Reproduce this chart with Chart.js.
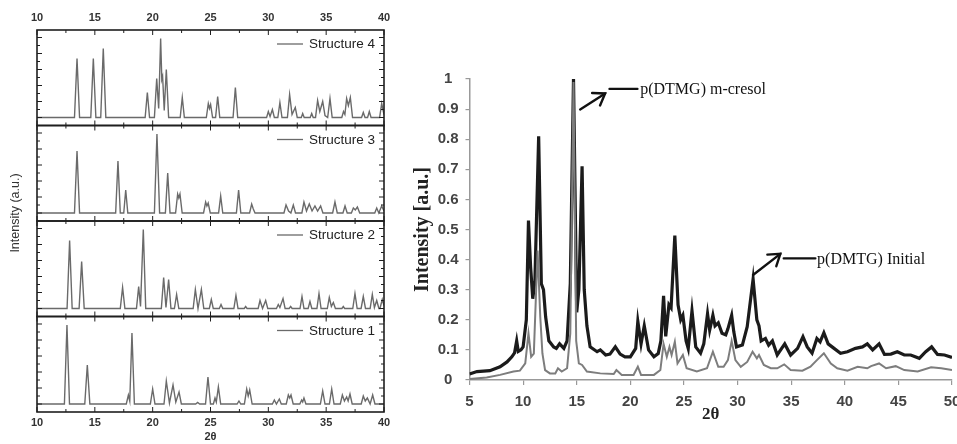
<!DOCTYPE html>
<html><head><meta charset="utf-8">
<script src="https://cdn.jsdelivr.net/npm/chart.js@4.4.0/dist/chart.umd.min.js"></script>
<style>
html,body{margin:0;padding:0;background:#fff;}
#wrap{position:relative;width:957px;height:444px;overflow:hidden;background:#fff;}
#lbox{position:absolute;left:0;top:0;width:400px;height:444px;}
#rbox{position:absolute;left:400px;top:0;width:557px;height:444px;}
</style></head><body>
<div id="wrap"><div id="lbox"><canvas id="left"></canvas></div><div id="rbox"><canvas id="right"></canvas></div></div>
<script>
// ---------- LEFT PANEL DATA (2θ, intensity a.u.) ----------
const leftNames = ['Structure 1', 'Structure 2', 'Structure 3', 'Structure 4'];
const structure1 = [[10,0],[12.37,0],[12.59,79],[12.81,0],[14.13,0],[14.35,39],[14.57,0],
 [17.72,0],[17.9,9],[18.02,3],[18.21,71],[18.42,0],[19.8,0],[20.0,15],[20.2,0],
 [20.98,0],[21.18,23],[21.45,1],[21.76,19],[22.0,2],[22.28,12],[22.48,0],
 [23.72,0],[23.89,1.5],[24.06,0],[24.57,0],[24.78,27],[25.0,0],
 [25.25,0],[25.39,6],[25.5,2],[25.68,17],[25.88,0],[27.3,0],[27.46,3],[27.62,0],
 [27.93,0],[28.13,15],[28.26,8],[28.39,14],[28.6,0],
 [30.35,0],[30.52,4],[30.7,0],[30.95,5],[31.12,0],
 [31.55,0],[31.73,9],[31.85,6],[31.96,9],[32.15,0],
 [32.72,0],[32.88,4],[32.97,2],[33.08,6],[33.25,0],
 [34.5,0],[34.7,13],[34.9,0],[35.28,0],[35.48,15],[35.68,0],
 [36.22,0],[36.4,9],[36.58,3],[36.77,7],[36.9,3],[37.06,10],[37.25,0],
 [38.03,0],[38.21,8],[38.38,3],[38.56,6],[38.8,0],[39.02,9],[39.22,0],[40,0]];
const structure2 = [[10,0],[12.6,0],[12.82,68],[13.04,0],[13.64,0],[13.86,47],[14.08,0],
 [17.2,0],[17.4,21],[17.6,0],[18.6,0],[18.79,22],[18.95,2],[19.19,79],[19.4,0],
 [20.75,0],[20.95,31],[21.15,1],[21.38,29],[21.58,0],[21.88,0],[22.07,14],[22.26,0],
 [23.5,0],[23.69,19],[23.92,0],[24.21,19],[24.42,0],[24.9,0],[25.07,9],[25.24,0],
 [25.76,0],[25.91,4],[26.06,0],[27.02,0],[27.2,13],[27.38,0],[27.92,0],[28.04,2],[28.16,0],
 [29.12,0],[29.28,8],[29.5,0],[29.77,8],[29.95,0],
 [30.7,0],[30.86,4],[31.0,1],[31.27,10],[31.45,0],[31.8,0],[31.93,2],[32.06,0],
 [32.74,0],[32.91,12],[33.08,0],[33.44,0],[33.6,7],[33.76,0],[34.2,0],[34.38,15],[34.56,0],
 [35.1,0],[35.27,11],[35.45,2],[35.62,6],[35.8,0],[36.36,0],[36.48,2],[36.6,0],
 [37.3,0],[37.49,15],[37.68,0],[38.02,0],[38.21,12],[38.4,0],
 [38.8,0],[38.99,14],[39.17,1],[39.37,8],[39.56,0],[39.65,0],[39.85,9],[40,3]];
const structure3 = [[10,0],[13.24,0],[13.46,62],[13.68,0],[16.8,0],[17.0,52],[17.2,0],
 [17.5,0],[17.67,23],[17.85,0],[20.15,0],[20.37,79],[20.6,0],[21.1,0],[21.3,40],[21.5,0],
 [21.98,0],[22.16,19],[22.26,15],[22.36,19],[22.55,0],
 [24.4,0],[24.58,11],[24.69,7],[24.8,10],[24.98,0],[25.7,0],[25.88,17],[26.06,0],
 [27.24,0],[27.43,23],[27.62,0],[28.38,0],[28.56,9],[28.7,4],[28.85,0],
 [31.35,0],[31.53,8],[31.75,2],[31.95,0],[32.16,8],[32.35,0],
 [32.9,0],[33.08,11],[33.3,2],[33.54,9],[33.78,2],[34.03,7],[34.26,2],[34.52,7],[34.72,0],
 [35.56,0],[35.76,11],[35.96,0],[36.45,0],[36.63,7],[36.82,0],
 [37.18,0],[37.35,5],[37.52,3],[37.7,6],[37.9,0],[39.2,0],[39.37,5],[39.55,0],[39.8,7],[40,2]];
const structure4 = [[10,0],[13.24,0],[13.46,59],[13.68,0],[14.65,0],[14.87,59],[15.09,0],
 [15.51,0],[15.73,69],[15.95,0],[19.35,0],[19.54,25],[19.73,0],
 [20.15,0],[20.35,39],[20.52,9],[20.69,79],[20.79,38],[20.86,41],[21.0,7],[21.18,48],[21.38,0],
 [22.38,0],[22.56,20],[22.74,0],[24.64,0],[24.81,14],[24.91,9],[25.01,13],[25.18,0],
 [25.44,0],[25.62,21],[25.8,0],[26.95,0],[27.15,30],[27.35,0],
 [29.85,0],[30.0,6],[30.15,1],[30.35,8],[30.52,0],[30.82,0],[31.0,15],[31.18,0],
 [31.65,0],[31.84,23],[32.05,3],[32.33,10],[32.5,0],[32.85,0],[32.97,4],[33.1,0],
 [33.62,0],[33.75,4],[33.88,0],
 [34.08,0],[34.26,17],[34.45,6],[34.7,16],[34.9,2],[35.13,0],[35.33,19],[35.52,0],
 [36.35,0],[36.5,6],[36.62,3],[36.77,19],[36.92,12],[37.09,20],[37.28,0],
 [38.06,0],[38.21,5],[38.36,0],[38.58,0],[38.73,6],[38.88,0],[39.62,0],[39.8,14],[40,3]];
const leftSeries = [structure1, structure2, structure3, structure4];
const leftXTicks = [10,12.5,15,17.5,20,22.5,25,27.5,30,32.5,35,37.5,40];
const leftYTicks = [0,8,16,24,32,40,48,56,64,72,80];

// ---------- RIGHT PANEL DATA ----------
const initialX = [5.0,5.7,6.9,7.85,8.5,8.95,9.2,9.4,9.55,9.8,10.0,10.3,10.5,10.7,10.9,11.1,11.45,11.7,11.9,12.1,12.4,12.85,13.1,13.4,13.8,14.1,14.4,14.7,15.0,15.2,15.5,15.7,15.95,16.25,16.9,17.2,17.7,18.1,18.6,19.05,19.5,20.0,20.5,20.7,21.0,21.3,21.7,22.2,22.6,22.85,23.1,23.3,23.6,23.8,24.15,24.45,24.7,24.9,25.2,25.4,25.75,26.1,26.55,26.85,27.2,27.4,27.7,27.9,28.2,28.55,28.9,29.1,29.45,29.65,29.9,30.45,30.9,31.45,31.8,32.0,32.2,32.6,32.9,33.25,33.7,34.4,34.95,35.6,36.1,36.5,36.95,37.4,37.7,38.05,38.45,39.0,39.6,40.25,41.0,41.65,42.1,42.6,43.2,43.7,44.3,44.9,45.55,46.15,46.95,47.55,48.1,48.65,49.3,50.0];
const initialY = [0.02,0.028,0.031,0.044,0.06,0.077,0.09,0.13,0.095,0.1,0.11,0.2,0.53,0.375,0.27,0.33,0.81,0.32,0.3,0.21,0.13,0.11,0.105,0.12,0.105,0.13,0.32,1.0,0.225,0.3,0.71,0.3,0.18,0.11,0.094,0.1,0.083,0.086,0.11,0.086,0.077,0.077,0.105,0.195,0.12,0.18,0.1,0.077,0.088,0.13,0.28,0.145,0.25,0.24,0.48,0.25,0.2,0.215,0.13,0.105,0.23,0.11,0.089,0.12,0.22,0.166,0.215,0.18,0.19,0.155,0.15,0.17,0.215,0.16,0.11,0.116,0.177,0.335,0.2,0.18,0.13,0.138,0.116,0.13,0.083,0.12,0.083,0.105,0.144,0.11,0.089,0.138,0.127,0.157,0.12,0.105,0.089,0.094,0.105,0.11,0.12,0.1,0.12,0.085,0.086,0.094,0.083,0.083,0.072,0.094,0.11,0.085,0.083,0.075];
const cresolX = [5.0,6.6,7.85,9.1,9.7,10.2,10.5,10.75,11.0,11.35,11.6,11.8,12.05,12.5,13.0,13.25,13.6,14.1,14.4,14.7,14.95,15.2,15.5,15.95,17.2,18.45,18.7,19.2,20.3,20.7,21.0,22.2,22.8,23.1,23.4,23.65,23.85,24.15,24.4,24.9,25.25,26.2,27.15,27.7,28.2,28.7,29.1,29.45,29.8,30.3,30.9,31.4,31.8,32.0,32.45,33.1,33.7,34.35,34.95,36.05,36.8,37.4,38.05,38.7,39.3,40.25,41.2,42.1,42.45,43.2,43.85,44.75,45.55,46.8,48.05,49.0,50.0];
const cresolY = [0.003,0.008,0.017,0.028,0.031,0.055,0.155,0.077,0.088,0.43,0.21,0.088,0.033,0.022,0.022,0.039,0.028,0.039,0.155,0.99,0.13,0.055,0.05,0.028,0.022,0.02,0.033,0.017,0.017,0.044,0.017,0.017,0.033,0.12,0.077,0.11,0.083,0.127,0.055,0.083,0.039,0.028,0.039,0.094,0.044,0.044,0.066,0.13,0.066,0.044,0.06,0.094,0.072,0.083,0.05,0.039,0.039,0.052,0.033,0.031,0.044,0.066,0.089,0.055,0.039,0.031,0.044,0.039,0.046,0.055,0.039,0.046,0.033,0.028,0.042,0.039,0.033];
const rightNames = ['p(DTMG) m-cresol', 'p(DMTG) Initial'];

// ---------- LEFT CHART ----------
const panelAxes = ['y1','y2','y3','y4'];
const tickFontL = {family:'"Liberation Sans", Arial, sans-serif', size:11, weight:'bold'};
function panelAxis(w){
  return {stack:'panels', stackWeight:1, weight:w, position:'left', min:-8, max:87.5,
    ticks:{display:false}, grid:{display:false, drawTicks:false}, border:{display:false},
    afterFit:s=>{s.width=0;}};
}
const leftFrame = {
  id:'leftFrame',
  afterLayout(chart){ const t=chart.scales.yt; t.top -= 16; },
  afterDraw(chart){
    const ctx=chart.ctx, xs=chart.scales.x, a=chart.chartArea;
    const seg=(x1,y1,x2,y2)=>{ctx.beginPath();ctx.moveTo(x1,y1);ctx.lineTo(x2,y2);ctx.stroke();};
    ctx.save();
    panelAxes.forEach((id,i)=>{
      const s=chart.scales[id], top=s.top, bot=s.bottom;
      ctx.strokeStyle='#1e1e1e';
      ctx.lineWidth=1;
      leftXTicks.forEach(t=>{
        const px=xs.getPixelForValue(t), L=(t%5===0)?5:3;
        seg(px,top,px,top+L); seg(px,bot,px,bot-L);
      });
      leftYTicks.forEach(v=>{
        const py=s.getPixelForValue(v), L=(v%16===0)?5:3;
        seg(a.left,py,a.left+L,py); seg(a.right,py,a.right-L,py);
      });
      ctx.lineWidth=1.6;
      ctx.strokeRect(a.left, top, a.right-a.left, bot-top);
      // legend
      const ly = top + 14;
      ctx.strokeStyle='#6a6a6a'; ctx.lineWidth=1.3;
      seg(a.right-107, ly, a.right-81, ly);
      ctx.fillStyle='#222'; ctx.font='13.5px "Liberation Sans", Arial, sans-serif';
      ctx.textAlign='left'; ctx.textBaseline='middle';
      ctx.fillText(leftNames[i], a.right-75, ly+0.5);
    });
    ctx.restore();
  }
};
const leftScales = {
  x:{type:'linear', position:'bottom', min:10, max:40,
     ticks:{stepSize:5, font:tickFontL, color:'#333', padding:4, maxRotation:0},
     grid:{display:false, drawTicks:false}, border:{display:false},
     title:{display:true, text:'2θ', font:tickFontL, color:'#333', padding:{top:0,bottom:0}},
     afterFit:s=>{s.height=32; s.paddingLeft=0; s.paddingRight=0;}},
  x2:{type:'linear', position:'top', min:10, max:40,
     ticks:{stepSize:5, font:tickFontL, color:'#333', padding:5, maxRotation:0},
     grid:{display:false, drawTicks:false}, border:{display:false},
     afterFit:s=>{s.height=30; s.paddingLeft=0; s.paddingRight=0;}},
  y1:panelAxis(1), y2:panelAxis(2), y3:panelAxis(3), y4:panelAxis(4),
  yt:{position:'left', weight:10, min:0, max:1,
     ticks:{display:false}, grid:{display:false, drawTicks:false}, border:{display:false},
     title:{display:true, text:'Intensity (a.u.)', color:'#333',
            font:{family:'"Liberation Sans", Arial, sans-serif', size:12.5}, padding:{top:0,bottom:0}},
     afterFit:s=>{s.width=29;}}
};
new Chart(document.getElementById('left'), {
  type:'line',
  data:{datasets: leftSeries.map((pts,i)=>({
    label:leftNames[i], data:pts.map(p=>({x:p[0], y:p[1]})),
    xAxisID:'x', yAxisID:panelAxes[i], borderColor:'#6a6a6a', borderWidth:1.4,
    pointRadius:0, tension:0, fill:false }))},
  options:{animation:false, responsive:true, maintainAspectRatio:false, devicePixelRatio:1,
    layout:{padding:{left:8, right:16, top:0, bottom:0}},
    plugins:{legend:{display:false}, tooltip:{enabled:false}},
    scales:leftScales},
  plugins:[leftFrame]
});

// ---------- RIGHT CHART ----------
const notes = [
  {text:rightNames[0], tail:[15.32,0.899], head:[17.65,0.952], line:[18.05,20.67,0.967], textX:20.92},
  {text:rightNames[1], tail:[31.44,0.349], head:[33.99,0.419], line:[34.30,37.26,0.404], textX:37.42}
];
const annot = {
  id:'annot',
  afterDraw(chart){
    const ctx=chart.ctx, xs=chart.scales.x, ys=chart.scales.y;
    ctx.save();
    ctx.strokeStyle='#111'; ctx.fillStyle='#111'; ctx.lineWidth=2.4; ctx.lineCap='round';
    notes.forEach(n=>{
      const tx=xs.getPixelForValue(n.tail[0]), ty=ys.getPixelForValue(n.tail[1]);
      const hx=xs.getPixelForValue(n.head[0]), hy=ys.getPixelForValue(n.head[1]);
      ctx.beginPath(); ctx.moveTo(tx,ty); ctx.lineTo(hx,hy); ctx.stroke();
      const ang=Math.atan2(hy-ty,hx-tx), L=13, sp=0.6;
      ctx.beginPath();
      ctx.moveTo(hx-L*Math.cos(ang-sp), hy-L*Math.sin(ang-sp));
      ctx.lineTo(hx,hy);
      ctx.lineTo(hx-L*Math.cos(ang+sp), hy-L*Math.sin(ang+sp));
      ctx.stroke();
      const ly=ys.getPixelForValue(n.line[2]);
      ctx.lineWidth=2.2;
      ctx.beginPath(); ctx.moveTo(xs.getPixelForValue(n.line[0]),ly); ctx.lineTo(xs.getPixelForValue(n.line[1]),ly); ctx.stroke();
      ctx.lineWidth=2.4;
      ctx.font='16px "Liberation Serif", "Times New Roman", serif';
      ctx.textAlign='left'; ctx.textBaseline='middle';
      ctx.fillText(n.text, xs.getPixelForValue(n.textX), ly+1);
    });
    ctx.restore();
  }
};
const tickFontR = {family:'"Liberation Sans", Arial, sans-serif', size:15, weight:'bold'};
new Chart(document.getElementById('right'), {
  type:'line',
  data:{datasets:[
    {label:rightNames[0], data:cresolX.map((x,i)=>({x, y:cresolY[i]})), borderColor:'#7d7d7d', borderWidth:2, pointRadius:0, tension:0, fill:false},
    {label:rightNames[1], data:initialX.map((x,i)=>({x, y:initialY[i]})), borderColor:'#1b1b1b', borderWidth:3.2, pointRadius:0, tension:0, fill:false}
  ]},
  options:{animation:false, responsive:true, maintainAspectRatio:false, devicePixelRatio:1,
    layout:{padding:{left:0, right:5, top:79, bottom:0}},
    plugins:{legend:{display:false}, tooltip:{enabled:false}},
    scales:{
      x:{type:'linear', min:5, max:50,
         ticks:{stepSize:5, font:tickFontR, color:'#444', padding:8, maxRotation:0},
         grid:{drawOnChartArea:false, drawTicks:true, tickLength:5, color:'#999', lineWidth:1.2},
         border:{color:'#999', width:1.5},
         title:{display:true, text:'2θ', color:'#222', font:{family:'"Liberation Serif", "Times New Roman", serif', size:17, weight:'bold'}, padding:{top:0,bottom:19}},
         afterFit:s=>{s.height=64; s.paddingLeft=0; s.paddingRight=0;}},
      y:{min:0, max:1,
         ticks:{stepSize:0.1, crossAlign:'center', padding:7, font:tickFontR, color:'#444',
                callback:v=>String(Math.round(v*10)/10)},
         grid:{drawOnChartArea:false, drawTicks:true, tickLength:4, color:'#999', lineWidth:1.2},
         border:{color:'#999', width:1.5},
         title:{display:true, text:'Intensity [a.u.]', color:'#222', font:{family:'"Liberation Serif", "Times New Roman", serif', size:20, weight:'bold'}, padding:{top:11,bottom:0}},
         afterFit:s=>{s.width=69.5; s.paddingTop=0; s.paddingBottom=0;}}
    }},
  plugins:[annot]
});
</script>
</body></html>
